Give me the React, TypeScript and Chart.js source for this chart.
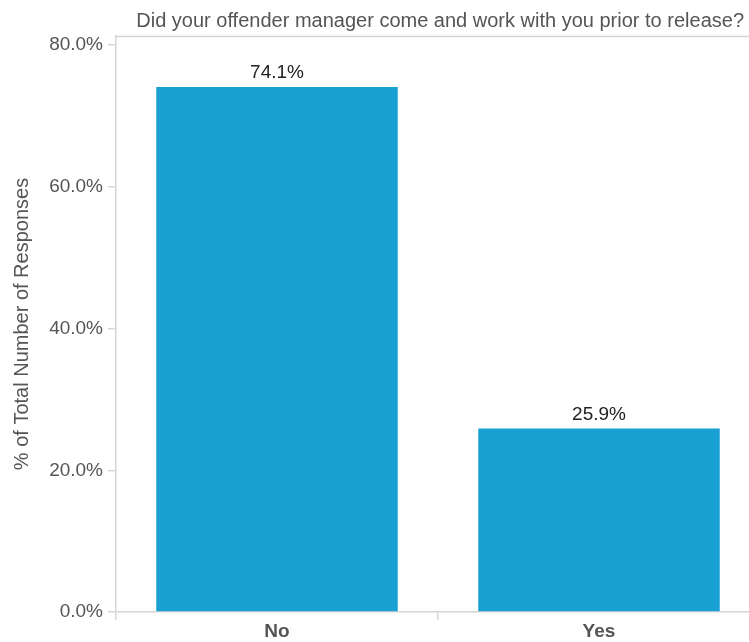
import React, { useEffect, useRef } from "react";
import { Chart, registerables } from "chart.js";

Chart.register(...registerables);

const categories: string[] = ["No", "Yes"];
const responseShare: number[] = [74.1, 25.9];
const yTickValues: number[] = [0, 20, 40, 60, 80];
const chartTitle = "Did your offender manager come and work with you prior to release?";
const yAxisTitle = "% of Total Number of Responses";

const FONT = "'Liberation Sans', Arial, Helvetica, sans-serif";
const AXIS_GRAY = "#d6d6d6";
const TEXT_GRAY = "#555555";
const BAR_BLUE = "#18a0d3";

export default function App() {
  const canvasRef = useRef<HTMLCanvasElement | null>(null);

  useEffect(() => {
    const canvas = canvasRef.current;
    if (!canvas) return;

    const decorPlugin = {
      id: "decor",
      afterDraw(chart: any) {
        const { ctx, chartArea } = chart;
        ctx.save();
        ctx.strokeStyle = AXIS_GRAY;
        ctx.lineWidth = 1.5;
        ctx.beginPath();
        ctx.moveTo(chartArea.left, chartArea.top + 0.5);
        ctx.lineTo(chartArea.right, chartArea.top + 0.5);
        ctx.stroke();
        ctx.fillStyle = TEXT_GRAY;
        ctx.font = `20px ${FONT}`;
        ctx.textAlign = "right";
        ctx.textBaseline = "alphabetic";
        ctx.fillText(chartTitle, 744, 27);
        ctx.restore();
      },
      afterDatasetsDraw(chart: any) {
        const { ctx } = chart;
        const meta = chart.getDatasetMeta(0);
        ctx.save();
        ctx.fillStyle = "#222222";
        ctx.font = `19px ${FONT}`;
        ctx.textAlign = "center";
        ctx.textBaseline = "alphabetic";
        meta.data.forEach((bar: any, i: number) => {
          ctx.fillText(responseShare[i].toFixed(1) + "%", bar.x, bar.y - 9);
        });
        ctx.restore();
      },
    };

    const chart = new Chart(canvas, {
      type: "bar",
      data: {
        labels: categories,
        datasets: [
          {
            data: responseShare,
            backgroundColor: BAR_BLUE,
            borderWidth: 0,
            categoryPercentage: 0.75,
            barPercentage: 1,
          },
        ],
      },
      plugins: [decorPlugin],
      options: {
        responsive: false,
        animation: false,
        layout: { padding: { top: 36, left: 0, right: 0, bottom: 0 } },
        plugins: {
          legend: { display: false },
          title: { display: false },
          tooltip: { enabled: false },
        },
        scales: {
          x: {
            grid: {
              display: true,
              drawOnChartArea: false,
              drawTicks: true,
              tickLength: 8,
              color: AXIS_GRAY,
              lineWidth: 1.5,
            },
            border: { display: true, color: AXIS_GRAY, width: 1.5 },
            ticks: {
              color: TEXT_GRAY,
              font: { family: FONT, size: 19, weight: "bold" },
              padding: 0,
              maxRotation: 0,
            },
            afterFit(scale: any) {
              scale.height = 30;
            },
          },
          y: {
            min: 0,
            max: 81.3,
            afterBuildTicks(scale: any) {
              scale.ticks = yTickValues.map((v) => ({ value: v }));
            },
            grid: {
              display: true,
              drawOnChartArea: false,
              drawTicks: true,
              tickLength: 8,
              color: AXIS_GRAY,
              lineWidth: 1.5,
            },
            border: { display: true, color: AXIS_GRAY, width: 1.5 },
            ticks: {
              color: TEXT_GRAY,
              font: { family: FONT, size: 19 },
              padding: 5,
              callback: (v: any) => Number(v).toFixed(1) + "%",
            },
            title: {
              display: true,
              text: yAxisTitle,
              color: TEXT_GRAY,
              font: { family: FONT, size: 20 },
              padding: { top: 10, bottom: 0 },
            },
            afterFit(scale: any) {
              scale.width = 116;
            },
          },
        },
      },
    } as any);
    return () => {
      chart.destroy();
    };
  }, []);

  return (
    <div
      style={{
        position: "fixed",
        left: 0,
        top: 0,
        width: 749,
        height: 642,
        overflow: "hidden",
        background: "#ffffff",
      }}
    >
      <canvas ref={canvasRef} width={760} height={642} style={{ width: 760, height: 642 }} />
    </div>
  );
}
